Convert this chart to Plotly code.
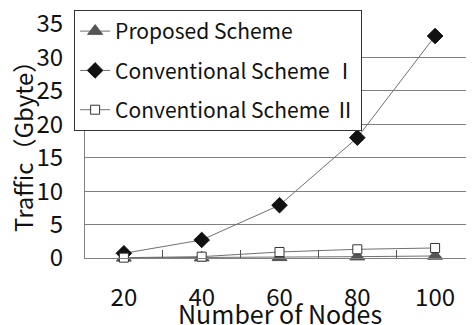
import plotly.graph_objects as go

nodes = ["20", "40", "60", "80", "100"]
proposed = [0.02, 0.05, 0.1, 0.2, 0.3]
conv1 = [0.7, 2.7, 7.9, 18.0, 33.2]
conv2 = [0.05, 0.2, 0.9, 1.3, 1.5]
y_ticks = [0, 5, 10, 15, 20, 25, 30, 35]

FONT = "Noto Sans CJK JP"
LINE = "#707070"

fig = go.Figure()
fig.add_trace(go.Scatter(
    x=nodes, y=proposed, name="Proposed Scheme", mode="lines+markers",
    line=dict(color=LINE, width=1),
    marker=dict(symbol="triangle-up", size=13, color="#555555",
                line=dict(color="#555555", width=1)),
    cliponaxis=False, legendgroup="a"))
fig.add_trace(go.Scatter(
    x=nodes, y=conv1, name="Conventional Scheme Ⅰ", mode="lines+markers",
    line=dict(color=LINE, width=1),
    marker=dict(symbol="diamond", size=12, color="#111111",
                line=dict(color="#111111", width=1)),
    cliponaxis=False, legendgroup="b"))
fig.add_trace(go.Scatter(
    x=nodes, y=conv2, name="Conventional Scheme Ⅱ", mode="lines+markers",
    line=dict(color=LINE, width=1),
    marker=dict(symbol="square", size=9, color="white",
                line=dict(color="#333333", width=1)),
    cliponaxis=False, legendgroup="c"))

fig.update_layout(
    width=466, height=317,
    margin=dict(l=77, r=0, t=16, b=67, autoexpand=False),
    paper_bgcolor="white", plot_bgcolor="white",
    font=dict(family=FONT, color="#111111"),
    showlegend=True,
    legend=dict(
        x=-0.028, y=1.06, xanchor="left", yanchor="top",
        bgcolor="white", bordercolor="#333333", borderwidth=1,
        font=dict(family=FONT, size=21, color="#111111"),
        tracegroupgap=9, itemwidth=30,
    ),
    xaxis=dict(
        type="category", range=[-0.5, 4.5], automargin=False,
        showline=True, linecolor="#808080", linewidth=1,
        ticks="inside", ticklen=8, tickcolor="#555555", tickson="boundaries",
        showgrid=False,
        tickfont=dict(family=FONT, size=24),
        ticklabelstandoff=18,
    ),
    yaxis=dict(
        range=[0, 35], tickvals=y_ticks, automargin=False,
        showline=True, linecolor="#808080", linewidth=1,
        showgrid=True, gridcolor="#808080", gridwidth=1,
        zeroline=False, ticks="",
        tickfont=dict(family=FONT, size=24),
        ticklabelstandoff=16, ticklabeloverflow="allow",
    ),
    annotations=[
        dict(text="Number of Nodes", xref="paper", yref="paper", x=0.5, y=0,
             xanchor="center", yanchor="middle", yshift=-55, showarrow=False,
             font=dict(family=FONT, size=25, color="#111111")),
        dict(text="Traffic（Gbyte）", xref="paper", yref="paper", x=0, y=0.5,
             xanchor="center", yanchor="middle", xshift=-63, textangle=-90,
             showarrow=False, font=dict(family=FONT, size=24, color="#111111")),
    ],
)

fig.write_html("out.html")
